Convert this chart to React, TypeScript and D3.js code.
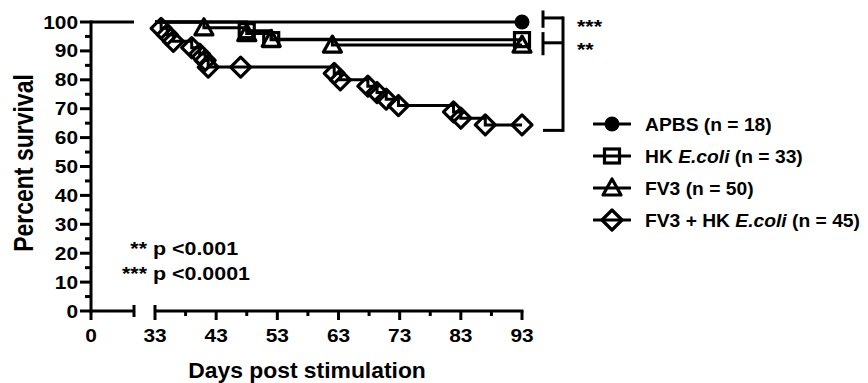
import React from "react";
import * as d3 from "d3";

const W = 868;
const H = 383;

// ---- data ----
const yTicks = [0, 10, 20, 30, 40, 50, 60, 70, 80, 90, 100];
const yMinorTicks = [5, 15, 25, 35, 45, 55, 65, 75, 85, 95];
const xTicksMain = [33, 43, 53, 63, 73, 83, 93];
const xMinorMain = [38, 48, 58, 68, 78, 88];
const xTicksPre = [0];
const preDomain = [0, 7];
const mainDomain = [33, 93];

const apbsDays = [93];
const apbsSurv = [100];

const hkDays = [48, 52, 93];
const hkSurv = [97.0, 93.9, 93.9];

const fv3Days = [41, 48, 52, 62, 93];
const fv3Surv = [98, 96, 94, 92, 92];

const comboDays = [34, 35, 36, 39, 40.3, 41.2, 41.7, 47, 62.3, 63.3, 67.8, 69.3, 70.8, 72.8, 81.8, 83, 87, 93];
const comboSurv = [97.8, 95.6, 93.3, 91.1, 88.9, 86.7, 84.4, 84.4, 82.2, 80.0, 77.8, 75.6, 73.3, 71.1, 68.9, 66.7, 64.4, 64.4];

const legendLabels = [
  ["APBS", "", " (n = 18)"],
  ["HK ", "E.coli", " (n = 33)"],
  ["FV3", "", " (n = 50)"],
  ["FV3 + HK ", "E.coli", " (n = 45)"],
];
const pLines = [
  ["**", "p <0.001"],
  ["***", "p <0.0001"],
];
const bracketStars = ["***", "**"];

// ---- layout ----
const yScale = d3.scaleLinear().domain([0, 100]).range([311, 22]);
const xMain = d3.scaleLinear().domain(mainDomain).range([155, 522]);
const xPre = d3.scaleLinear().domain(preDomain).range([91, 134]);
const SX = 1.19;
const FONT = "'Liberation Sans', Arial, Helvetica, sans-serif";

type Shape = "circle" | "square" | "triangle" | "diamond";

function Marker({ x, y, shape }: { x: number; y: number; shape: Shape }) {
  const sw = 3.2;
  if (shape === "circle") return <circle cx={x} cy={y} r={7.5} fill="#000" />;
  if (shape === "square")
    return <rect x={x - 7.5} y={y - 7} width={15} height={14} fill="none" stroke="#000" strokeWidth={sw} />;
  if (shape === "triangle")
    return (
      <path
        d={`M${x},${y - 9}L${x + 9},${y + 7}L${x - 9},${y + 7}Z`}
        fill="none"
        stroke="#000"
        strokeWidth={sw}
        strokeLinejoin="round"
      />
    );
  return (
    <path
      d={`M${x},${y - 10}L${x + 10},${y}L${x},${y + 10}L${x - 10},${y}Z`}
      fill="none"
      stroke="#000"
      strokeWidth={sw}
      strokeLinejoin="round"
    />
  );
}

function T({
  x,
  y,
  size,
  anchor = "start",
  children,
  sx = SX,
  rotate = 0,
}: {
  x: number;
  y: number;
  size: number;
  anchor?: string;
  children: React.ReactNode;
  sx?: number;
  rotate?: number;
}) {
  return (
    <g transform={`translate(${x},${y}) scale(${sx},1) rotate(${rotate})`}>
      <text x={0} y={0} fontSize={size} fontWeight="bold" fontFamily={FONT} textAnchor={anchor} fill="#000">
        {children}
      </text>
    </g>
  );
}

const series: { days: number[]; surv: number[]; shape: Shape }[] = [
  { days: comboDays, surv: comboSurv, shape: "diamond" },
  { days: fv3Days, surv: fv3Surv, shape: "triangle" },
  { days: hkDays, surv: hkSurv, shape: "square" },
  { days: apbsDays, surv: apbsSurv, shape: "circle" },
];

export default function App() {
  const line = d3
    .line<[number, number]>()
    .x((d) => xMain(d[0]))
    .y((d) => yScale(d[1]))
    .curve(d3.curveStepAfter);

  const y0 = yScale(0);
  const legendRows = [124, 156, 188, 220];
  const legendShapes: Shape[] = ["circle", "square", "triangle", "diamond"];

  const bTop = yScale(101.4);
  const bMid = yScale(92.8);
  const bBot = yScale(62.5);
  const bx1 = 543;
  const bx2 = 563;

  return (
    <svg width={W} height={H} style={{ position: "absolute", left: 0, top: 0, background: "#fff" }}>
      <rect x={0} y={0} width={W} height={H} fill="#fff" />
      {/* Y axis */}
      <line x1={91} x2={91} y1={y0 + 1.5} y2={yScale(100) - 1.5} stroke="#000" strokeWidth={3} />
      {yTicks.map((t) => (
        <g key={"yt" + t}>
          <line x1={80} x2={91} y1={yScale(t)} y2={yScale(t)} stroke="#000" strokeWidth={3} />
          <T x={78} y={yScale(t) + 6.5} size={18} anchor="end" sx={1.16}>
            {t}
          </T>
        </g>
      ))}
      {yMinorTicks.map((t) => (
        <line key={"ym" + t} x1={85} x2={91} y1={yScale(t)} y2={yScale(t)} stroke="#000" strokeWidth={3} />
      ))}
      {/* X axis, pre-break */}
      <line x1={xPre(preDomain[0])} x2={xPre(preDomain[1])} y1={y0} y2={y0} stroke="#000" strokeWidth={3} />
      <line x1={xPre(preDomain[1])} x2={xPre(preDomain[1])} y1={y0 - 6} y2={y0 + 6} stroke="#000" strokeWidth={3} />
      {xTicksPre.map((t) => (
        <g key={"xp" + t}>
          <line x1={xPre(t)} x2={xPre(t)} y1={y0} y2={y0 + 9} stroke="#000" strokeWidth={3} />
          <T x={xPre(t)} y={342} size={18} anchor="middle" sx={1.16}>
            {t}
          </T>
        </g>
      ))}
      {/* X axis, main */}
      <line x1={xMain(mainDomain[0])} x2={xMain(mainDomain[1]) + 1.5} y1={y0} y2={y0} stroke="#000" strokeWidth={3} />
      <line x1={xMain(mainDomain[0])} x2={xMain(mainDomain[0])} y1={y0 - 6} y2={y0} stroke="#000" strokeWidth={3} />
      {xTicksMain.map((t) => (
        <g key={"xm" + t}>
          <line x1={xMain(t)} x2={xMain(t)} y1={y0} y2={y0 + 9} stroke="#000" strokeWidth={3} />
          <T x={xMain(t)} y={342} size={18} anchor="middle" sx={1.16}>
            {t}
          </T>
        </g>
      ))}
      {xMinorMain.map((t) => (
        <line key={"xn" + t} x1={xMain(t)} x2={xMain(t)} y1={y0} y2={y0 + 5} stroke="#000" strokeWidth={3} />
      ))}

      {/* axis titles */}
      <T x={307} y={378} size={22} anchor="middle" sx={1.04}>
        Days post stimulation
      </T>
      <T x={33} y={163} size={23} anchor="middle" rotate={-90}>
        Percent survival
      </T>

      {/* pre-break survival line (all groups at 100%) */}
      <line x1={xPre(preDomain[0])} x2={xPre(preDomain[1])} y1={yScale(100)} y2={yScale(100)} stroke="#000" strokeWidth={3} />

      {/* curves */}
      {series.map((s, i) => {
        const pts: [number, number][] = [[mainDomain[0], 100], ...s.days.map((d, j) => [d, s.surv[j]] as [number, number])];
        return (
          <g key={"s" + i}>
            <path d={line(pts) || ""} fill="none" stroke="#000" strokeWidth={3} />
            {s.days.map((d, j) => (
              <Marker key={j} x={xMain(d)} y={yScale(s.surv[j])} shape={s.shape} />
            ))}
          </g>
        );
      })}

      {/* significance brackets */}
      <g stroke="#000" strokeWidth={3} fill="none">
        <line x1={bx1} x2={bx1} y1={yScale(104)} y2={yScale(98)} />
        <line x1={bx1} x2={bx1} y1={yScale(96.5)} y2={yScale(88.5)} />
        <line x1={bx1} x2={bx2} y1={bTop} y2={bTop} />
        <line x1={bx1} x2={bx2} y1={bMid} y2={bMid} />
        <line x1={bx2} x2={bx2} y1={bTop - 1.5} y2={bBot + 1.5} />
        <line x1={bx1} x2={bx2} y1={bBot} y2={bBot} />
      </g>
      <T x={577} y={33} size={18}>
        {bracketStars[0]}
      </T>
      <T x={577} y={56} size={18}>
        {bracketStars[1]}
      </T>

      {/* p-value notes */}
      {pLines.map((p, i) => (
        <g key={"p" + i}>
          <T x={147} y={255 + i * 25} size={18} anchor="end">
            {p[0]}
          </T>
          <T x={153} y={255 + i * 25} size={18}>
            {p[1]}
          </T>
        </g>
      ))}

      {/* legend */}
      {legendLabels.map((l, i) => (
        <g key={"lg" + i}>
          <line x1={593} x2={631} y1={legendRows[i]} y2={legendRows[i]} stroke="#000" strokeWidth={3} />
          <Marker x={612} y={legendRows[i]} shape={legendShapes[i]} />
          <T x={645} y={legendRows[i] + 7} size={18} sx={1.07}>
            {l[0]}
            {l[1] ? <tspan fontStyle="italic">{l[1]}</tspan> : null}
            {l[2]}
          </T>
        </g>
      ))}
    </svg>
  );
}
